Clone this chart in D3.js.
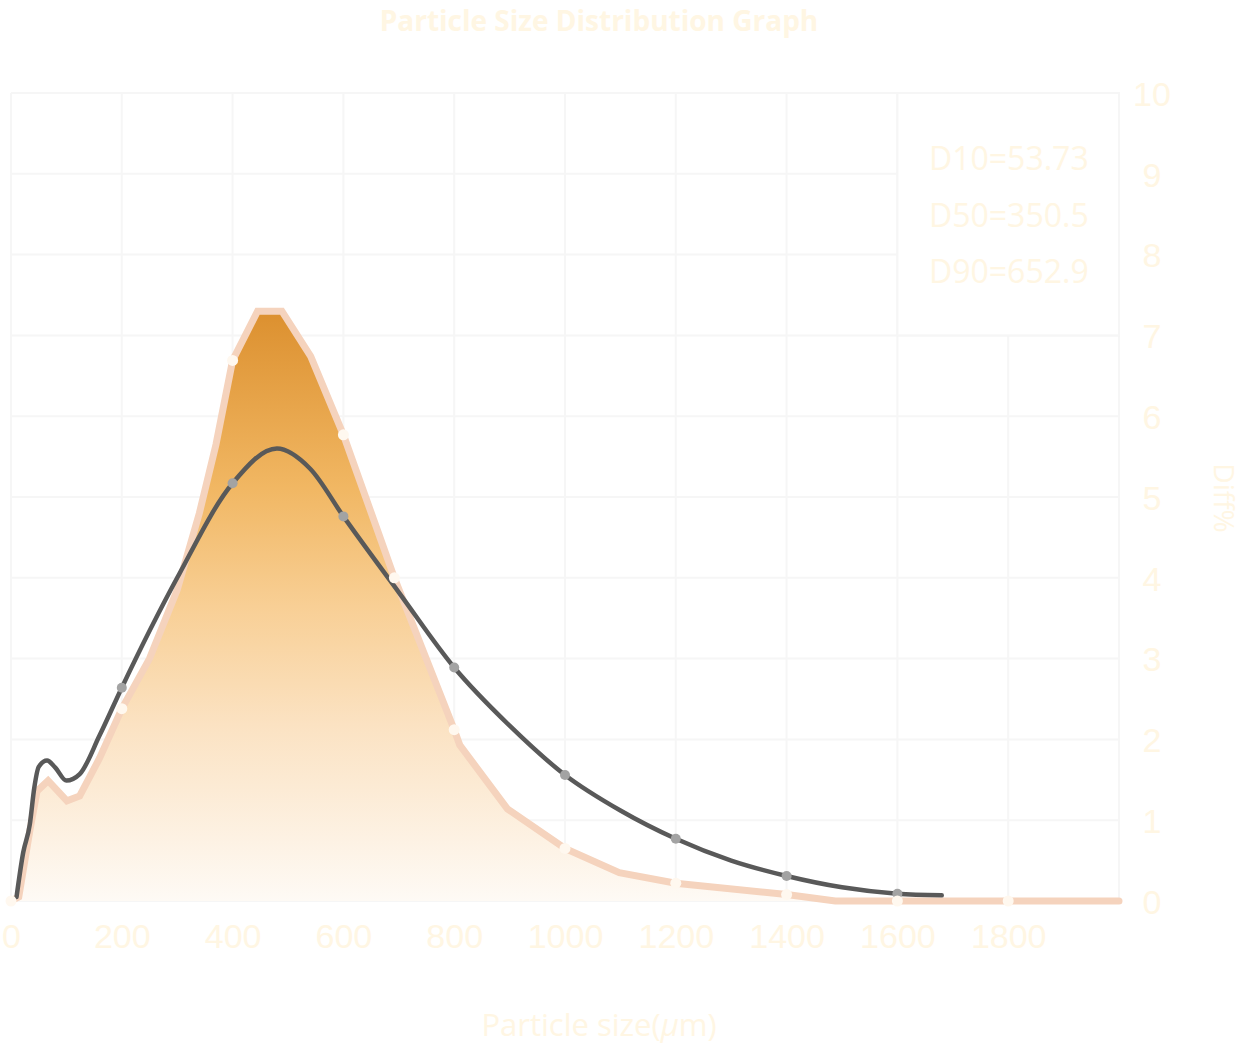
<!DOCTYPE html>
<html>
<head>
<meta charset="utf-8">
<script src="https://cdn.jsdelivr.net/npm/d3@7"></script>
<style>
  html, body { margin: 0; padding: 0; background: #ffffff; }
  svg { display: block; }
</style>
</head>
<body>
<div id="chart"></div>
<script>
// particle size distribution — two curves on a 0..2000 um axis
const titleText = "Particle Size Distribution Graph";
const xTicks = [0, 200, 400, 600, 800, 1000, 1200, 1400, 1600, 1800];
const yTicks = [0, 1, 2, 3, 4, 5, 6, 7, 8, 9, 10];
const stats = ["D10=53.73", "D50=350.5", "D90=652.9"];

// filled series (linear segments)
const sizeA = [0, 14, 34, 47, 67, 101, 124, 160, 200, 250, 300, 340, 370, 400, 445, 489, 541, 600, 665, 692, 800, 810, 896, 1000, 1098, 1200, 1400, 1488, 1600, 1800, 2000];
const diffA = [0, 0.05, 0.87, 1.36, 1.49, 1.24, 1.3, 1.77, 2.38, 3.0, 3.85, 4.8, 5.65, 6.69, 7.3, 7.3, 6.74, 5.77, 4.52, 4.0, 2.12, 1.93, 1.14, 0.65, 0.35, 0.22, 0.08, 0, 0, 0, 0];
const markA = [0, 200, 400, 600, 692, 800, 1000, 1200, 1400, 1600, 1800];

// smooth dark series
const sizeB = [10, 22, 34, 42, 50, 65, 80, 100, 124, 160, 200, 300, 400, 480, 540, 600, 700, 800, 900, 1000, 1100, 1200, 1300, 1400, 1500, 1600, 1680];
const diffB = [0.05, 0.6, 0.95, 1.4, 1.66, 1.74, 1.65, 1.49, 1.57, 2.05, 2.64, 4.0, 5.17, 5.6, 5.35, 4.76, 3.82, 2.89, 2.17, 1.56, 1.12, 0.77, 0.5, 0.31, 0.17, 0.09, 0.07];
const markB = [200, 400, 600, 800, 1000, 1200, 1400, 1600];

window.onload = function () {
  const W = 1246, H = 1048;
  const textColor = "#fff6e3";
  const gridColor = "#f6f6f6";

  const svg = d3.select("#chart").append("svg")
    .attr("width", W).attr("height", H);

  const x = d3.scaleLinear().domain([0, 2000]).range([11, 1119]);
  const y = d3.scaleLinear().domain([0, 10]).range([901, 93]);

  const ptsA = sizeA.map((s, i) => ({ s: s, v: diffA[i] }));
  const ptsB = sizeB.map((s, i) => ({ s: s, v: diffB[i] }));

  // gradient for the fill
  const defs = svg.append("defs");
  const grad = defs.append("linearGradient")
    .attr("id", "fillGrad")
    .attr("gradientUnits", "userSpaceOnUse")
    .attr("x1", 0).attr("x2", 0)
    .attr("y1", y(7.3)).attr("y2", y(0));
  [[0, "#dc902f"], [0.3, "#f1b763"], [0.5, "#f8cf95"], [0.7, "#fbe2c2"], [1, "#fefaf5"]]
    .forEach((d) => grad.append("stop").attr("offset", d[0]).attr("stop-color", d[1]));

  // grid
  const grid = svg.append("g");
  grid.selectAll(".vg").data(xTicks.concat([2000]))
    .enter().append("line")
    .attr("x1", (d) => x(d)).attr("x2", (d) => x(d))
    .attr("y1", y(10)).attr("y2", y(0))
    .attr("stroke", gridColor).attr("stroke-width", 2);
  grid.selectAll(".hg").data(yTicks)
    .enter().append("line")
    .attr("x1", x(0)).attr("x2", x(2000))
    .attr("y1", (d) => y(d)).attr("y2", (d) => y(d))
    .attr("stroke", gridColor).attr("stroke-width", 2);

  // legend box covering the grid in the top right
  svg.append("rect")
    .attr("x", x(1600)).attr("y", y(10))
    .attr("width", x(2000) - x(1600)).attr("height", y(7) - y(10))
    .attr("fill", "#ffffff")
    .attr("stroke", gridColor).attr("stroke-width", 2);

  // area + line (orange series)
  const area = d3.area()
    .x((d) => x(d.s)).y0(y(0)).y1((d) => y(d.v));
  svg.append("path").datum(ptsA)
    .attr("d", area)
    .attr("fill", "url(#fillGrad)");

  const lineA = d3.line().x((d) => x(d.s)).y((d) => y(d.v));
  svg.append("path").datum(ptsA)
    .attr("d", lineA)
    .attr("fill", "none")
    .attr("stroke", "#f5d3bd")
    .attr("stroke-width", 7)
    .attr("stroke-linecap", "round");

  // dark smooth line
  const lineB = d3.line().curve(d3.curveMonotoneX)
    .x((d) => x(d.s)).y((d) => y(d.v));
  svg.append("path").datum(ptsB)
    .attr("d", lineB)
    .attr("fill", "none")
    .attr("stroke", "#595959")
    .attr("stroke-width", 4.5)
    .attr("stroke-linecap", "round");

  // markers
  svg.append("g").selectAll("circle")
    .data(ptsB.filter((d) => markB.includes(d.s)))
    .enter().append("circle")
    .attr("cx", (d) => x(d.s)).attr("cy", (d) => y(d.v))
    .attr("r", 5).attr("fill", "#a3a3a3");
  svg.append("g").selectAll("circle")
    .data(ptsA.filter((d) => markA.includes(d.s)))
    .enter().append("circle")
    .attr("cx", (d) => x(d.s)).attr("cy", (d) => y(d.v))
    .attr("r", 5.5).attr("fill", "#fff8ef");

  // x axis labels
  const xAxis = svg.append("g")
    .attr("transform", `translate(0,${y(0)})`)
    .call(d3.axisBottom(x).tickValues(xTicks).tickSize(0).tickFormat(d3.format("d")));
  xAxis.select(".domain").remove();
  xAxis.selectAll("text")
    .attr("y", 47).attr("dy", 0)
    .attr("fill", textColor)
    .style("font-family", "'Liberation Sans', Arial, sans-serif")
    .style("font-size", "34px");

  // y axis labels on the right
  const yAxis = svg.append("g")
    .attr("transform", `translate(1152,0)`)
    .call(d3.axisRight(y).tickValues(yTicks).tickSize(0));
  yAxis.select(".domain").remove();
  yAxis.selectAll("text")
    .attr("x", 0).attr("dy", "0.36em")
    .attr("text-anchor", "middle")
    .attr("fill", textColor)
    .style("font-family", "'Liberation Sans', Arial, sans-serif")
    .style("font-size", "34px");

  // stats text
  svg.append("g").selectAll("text")
    .data(stats).enter().append("text")
    .attr("x", 929)
    .attr("y", (d, i) => 170 + i * 56.5)
    .attr("fill", textColor)
    .style("font-family", "'Open Sans', sans-serif")
    .style("font-size", "32px")
    .text((d) => d);

  // title
  svg.append("text")
    .attr("x", 599).attr("y", 31)
    .attr("text-anchor", "middle")
    .attr("fill", textColor)
    .style("font-family", "'Open Sans', sans-serif")
    .style("font-weight", "bold")
    .style("font-size", "28px")
    .text(titleText);

  // axis titles
  const xLab = svg.append("text")
    .attr("x", 599).attr("y", 1036)
    .attr("text-anchor", "middle")
    .attr("fill", textColor)
    .style("font-family", "'Open Sans', sans-serif")
    .style("font-size", "31px");
  xLab.append("tspan").text("Particle size(");
  xLab.append("tspan").style("font-style", "italic").text("\u03BC");
  xLab.append("tspan").text("m)");

  svg.append("text")
    .attr("transform", "translate(1214,498) rotate(90)")
    .attr("text-anchor", "middle")
    .attr("fill", textColor)
    .style("font-family", "'Open Sans', sans-serif")
    .style("font-size", "28px")
    .text("Diff%");
};
</script>
</body>
</html>
